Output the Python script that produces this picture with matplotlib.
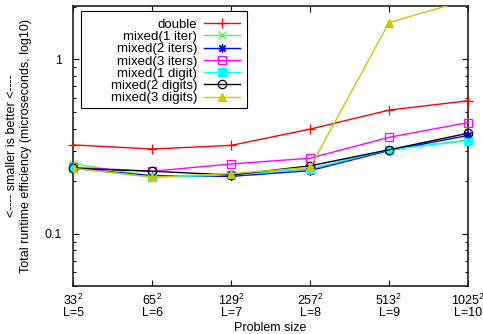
import matplotlib
matplotlib.use("Agg")
import matplotlib.pyplot as plt
from matplotlib.patches import Rectangle
from matplotlib.ticker import FixedLocator, LogLocator, NullFormatter, FormatStrFormatter

plt.rcParams['font.family'] = ['Liberation Sans', 'DejaVu Sans']
plt.rcParams['mathtext.default'] = 'regular'
plt.rcParams['font.size'] = 9

# problem sizes (grid side and level)
sizes = [33, 65, 129, 257, 513, 1025]
levels = [5, 6, 7, 8, 9, 10]

# runtime per series (microseconds)
double = [0.323, 0.306, 0.321, 0.398, 0.512, 0.579]
mixed_1_iter = [0.252, 0.213, 0.218, 0.235, 0.302, 0.345]
mixed_2_iters = [0.237, 0.215, 0.213, 0.230, 0.300, 0.366]
mixed_3_iters = [0.240, 0.228, 0.251, 0.271, 0.357, 0.434]
mixed_1_digit = [0.237, 0.211, 0.217, 0.236, 0.303, 0.342]
mixed_2_digits = [0.237, 0.228, 0.217, 0.245, 0.303, 0.377]
mixed_3_digits = [0.237, 0.211, 0.221, 0.240, 1.63, 2.2]

labels = ["double", "mixed(1 iter)", "mixed(2 iters)", "mixed(3 iters)",
          "mixed(1 digit)", "mixed(2 digits)", "mixed(3 digits)"]
series = [double, mixed_1_iter, mixed_2_iters, mixed_3_iters,
          mixed_1_digit, mixed_2_digits, mixed_3_digits]
colors = ['#ff0000', '#33ff33', '#0000ff', '#ff00ff', '#00ffff', '#000000', '#c8c800']
markers = ['+', 'x', (8, 2, 0), 's', 's', 'o', '^']
fills = ['full', 'full', 'full', 'none', 'full', 'none', 'full']
msizes = [7, 6, 6, 6, 5.5, 6, 5.5]

fig = plt.figure(figsize=(4.83, 3.34), dpi=100)
ax = fig.add_axes([0.1518, 0.1437, 0.8172, 0.8375])

x = list(range(len(sizes)))
for y, lab, c, m, f, ms in zip(series, labels, colors, markers, fills, msizes):
    ax.plot(x, y, color=c, marker=m, fillstyle=f, markersize=ms, linewidth=1.0,
            markeredgewidth=0.9, label=lab, clip_on=(lab == "mixed(3 digits)"), zorder=3)

ax.set_yscale('log')
ax.set_ylim(0.05, 2.02)
ax.set_xlim(0, 5)
ax.yaxis.set_major_locator(FixedLocator([0.1, 1]))
ax.yaxis.set_major_formatter(FormatStrFormatter('%g'))
ax.yaxis.set_minor_locator(LogLocator(base=10, subs=[2, 3, 4, 5, 6, 7, 8, 9]))
ax.yaxis.set_minor_formatter(NullFormatter())

ax.set_xticks(x)
ax.set_xticklabels(["%d$^{2}$\nL=%d" % (s, l) for s, l in zip(sizes, levels)],
                   linespacing=0.85)
ax.tick_params(which='both', direction='in', top=True, right=True, width=0.8)
ax.tick_params(which='major', length=4, pad=5)
ax.tick_params(axis='y', which='major', pad=8)
ax.tick_params(which='minor', length=2.5)
for s in ax.spines.values():
    s.set_linewidth(1.2)
    s.set_color('#222222')

ax.set_xlabel("Problem size", labelpad=2)
ax.set_ylabel("<---- smaller is better <----\nTotal runtime efficiency (microseconds, log10)",
              labelpad=9, linespacing=1.25)

# gnuplot-style key: wide box, text right-aligned before the samples
ax.add_patch(Rectangle((0.0195, 0.636), 0.4205, 0.347, transform=ax.transAxes,
                       facecolor='white', edgecolor='black', linewidth=0.8, zorder=4))
leg = ax.legend(loc='upper right', bbox_to_anchor=(0.4223, 0.956), markerfirst=False,
                frameon=False, handlelength=2.7, labelspacing=0.0, borderpad=0,
                handletextpad=0.55, borderaxespad=0, fontsize=9.5)
leg.set_zorder(5)

fig.savefig("out.png", dpi=100)
